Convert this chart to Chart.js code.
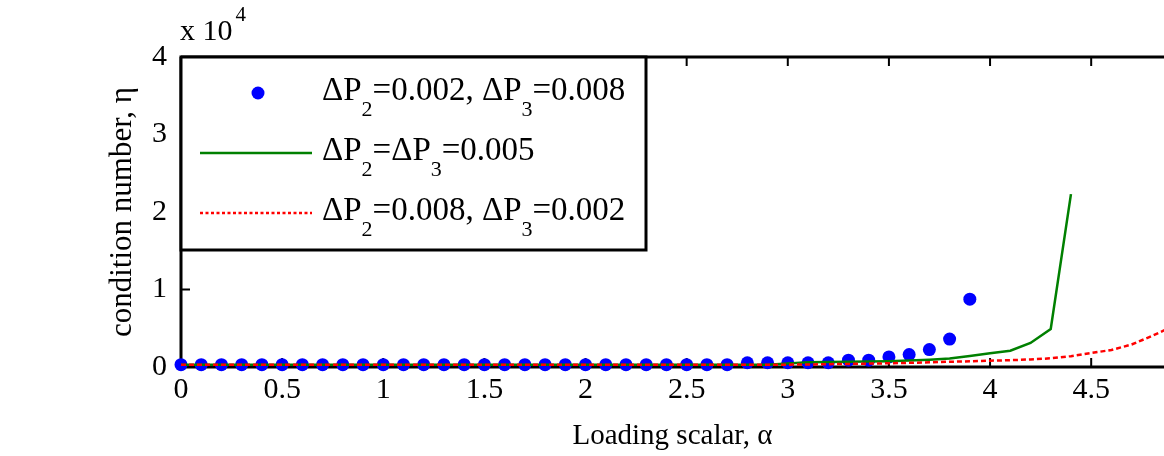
<!DOCTYPE html>
<html>
<head>
<meta charset="utf-8">
<script src="https://cdn.jsdelivr.net/npm/chart.js@4.4.0/dist/chart.umd.min.js"></script>
<style>
  html, body { margin: 0; padding: 0; background: #fff; overflow: hidden; }
  #wrap { position: relative; width: 1164px; height: 456px; }
  canvas { display: block; }
</style>
</head>
<body>
<div id="wrap"><canvas id="chart"></canvas></div>
<script>
// data (eta in absolute units, axis shows x 10^4)
const alphaDots = [0, 0.1, 0.2, 0.3, 0.4, 0.5, 0.6, 0.7, 0.8, 0.9,
  1.0, 1.1, 1.2, 1.3, 1.4, 1.5, 1.6, 1.7, 1.8, 1.9,
  2.0, 2.1, 2.2, 2.3, 2.4, 2.5, 2.6, 2.7, 2.8, 2.9,
  3.0, 3.1, 3.2, 3.3, 3.4, 3.5, 3.6, 3.7, 3.8, 3.9]
const etaDots = [300, 300, 300, 300, 300, 300, 300, 300, 300, 300,
  300, 300, 300, 300, 300, 300, 300, 300, 300, 300,
  300, 300, 300, 300, 300, 300, 300, 300, 550, 550,
  550, 550, 550, 880, 880, 1300, 1600, 2250, 3600, 8750]

const alphaGreen = [0, 0.1, 0.2, 0.3, 0.4, 0.5, 0.6, 0.7, 0.8, 0.9,
  1.0, 1.1, 1.2, 1.3, 1.4, 1.5, 1.6, 1.7, 1.8, 1.9,
  2.0, 2.1, 2.2, 2.3, 2.4, 2.5, 2.6, 2.7, 2.8, 2.9,
  3.0, 3.1, 3.2, 3.3, 3.4, 3.5, 3.6, 3.7, 3.8, 3.9,
  4.0, 4.1, 4.2, 4.3, 4.4]
const etaGreen = [300, 300, 300, 300, 300, 300, 300, 300, 300, 300,
  300, 300, 300, 300, 300, 300, 300, 300, 300, 300,
  300, 300, 300, 300, 300, 300, 300, 300, 300, 300,
  450, 600, 650, 680, 700, 750, 850, 950, 1100, 1430,
  1770, 2100, 3100, 4900, 22300]

const alphaRed = [0, 0.1, 0.2, 0.3, 0.4, 0.5, 0.6, 0.7, 0.8, 0.9,
  1.0, 1.1, 1.2, 1.3, 1.4, 1.5, 1.6, 1.7, 1.8, 1.9,
  2.0, 2.1, 2.2, 2.3, 2.4, 2.5, 2.6, 2.7, 2.8, 2.9,
  3.0, 3.1, 3.2, 3.3, 3.4, 3.5, 3.6, 3.7, 3.8, 3.9,
  4.0, 4.1, 4.2, 4.3, 4.4, 4.5, 4.6, 4.7, 4.8, 4.9]
const etaRed = [300, 300, 300, 300, 300, 300, 300, 300, 300, 300,
  300, 300, 300, 300, 300, 300, 300, 300, 300, 300,
  300, 300, 300, 300, 300, 300, 300, 300, 300, 300,
  300, 330, 360, 400, 440, 480, 540, 600, 680, 740,
  810, 880, 980, 1120, 1400, 1800, 2200, 2900, 4000, 5200]

const seriesLabels = ['ΔP2=0.002, ΔP3=0.008', 'ΔP2=ΔP3=0.005', 'ΔP2=0.008, ΔP3=0.002']
const xTitle = 'Loading scalar, α'
const yTitle = 'condition number, η'

const serif = "'Liberation Serif', 'Times New Roman', serif"

const toPoints = (xs, ys) => xs.map((x, i) => ({ x: x, y: ys[i] }))

// draw "ΔP2..." with the digit after P as a subscript
function drawTexLabel(ctx, text, x, y) {
  const parts = text.split(/P(\d)/)
  let cx = x
  ctx.textBaseline = 'alphabetic'
  ctx.textAlign = 'left'
  parts.forEach((p, i) => {
    if (i % 2 === 1) {
      ctx.font = '22px ' + serif
      ctx.fillText(p, cx, y + 16)
      cx += ctx.measureText(p).width
    } else {
      const s = i < parts.length - 1 ? p + 'P' : p
      ctx.font = '33px ' + serif
      ctx.fillText(s, cx, y)
      cx += ctx.measureText(s).width
    }
  })
}

const framePlugin = {
  id: 'frame',
  beforeDatasetsDraw(chart) {
    const { ctx, chartArea: a, scales } = chart
    ctx.save()
    ctx.strokeStyle = '#000'
    ctx.lineWidth = 3
    ctx.beginPath()
    ctx.moveTo(a.left, a.top); ctx.lineTo(a.right, a.top)
    ctx.moveTo(a.left, a.bottom); ctx.lineTo(a.right, a.bottom)
    ctx.moveTo(a.left, a.top); ctx.lineTo(a.left, a.bottom)
    ctx.stroke()
    ctx.lineWidth = 2
    ctx.beginPath()
    scales.x.ticks.forEach(t => {
      const px = scales.x.getPixelForValue(t.value)
      if (px <= a.left + 1) return
      ctx.moveTo(px, a.bottom); ctx.lineTo(px, a.bottom - 9)
      ctx.moveTo(px, a.top); ctx.lineTo(px, a.top + 9)
    })
    scales.y.ticks.forEach(t => {
      const py = scales.y.getPixelForValue(t.value)
      ctx.moveTo(a.left, py); ctx.lineTo(a.left + 9, py)
    })
    ctx.stroke()
    ctx.restore()
  },
  afterDatasetsDraw(chart) {
    const { ctx, chartArea: a } = chart
    const ds = chart.data.datasets
    ctx.save()
    // legend box
    const box = { l: a.left, t: a.top, r: 646, b: 250 }
    ctx.fillStyle = '#fff'
    ctx.fillRect(box.l, box.t, box.r - box.l, box.b - box.t)
    ctx.strokeStyle = '#000'
    ctx.lineWidth = 3
    ctx.strokeRect(box.l, box.t, box.r - box.l, box.b - box.t)

    const rows = [100, 160, 220]
    ds.forEach((d, i) => {
      const y = rows[i]
      const my = y - 7
      if (d.showLine === false) {
        ctx.fillStyle = d.pointBackgroundColor
        ctx.beginPath()
        ctx.arc(258, my, d.pointRadius, 0, Math.PI * 2)
        ctx.fill()
      } else {
        ctx.strokeStyle = d.borderColor
        ctx.lineWidth = d.borderWidth
        ctx.setLineDash(d.borderDash ? [3, 2.5] : [])
        ctx.beginPath()
        ctx.moveTo(200, my); ctx.lineTo(312, my)
        ctx.stroke()
        ctx.setLineDash([])
      }
      ctx.fillStyle = '#000'
      drawTexLabel(ctx, d.label, 322, y)
    })

    // exponent note above the y axis
    ctx.fillStyle = '#000'
    ctx.textAlign = 'left'
    ctx.textBaseline = 'alphabetic'
    ctx.font = '30px ' + serif
    ctx.fillText('x 10', 180, 40)
    const w = ctx.measureText('x 10').width
    ctx.font = '21px ' + serif
    ctx.fillText('4', 180 + w + 3, 21)
    ctx.restore()
  }
}

new Chart(document.getElementById('chart').getContext('2d'), {
  type: 'scatter',
  data: {
    datasets: [
      {
        label: seriesLabels[0],
        data: toPoints(alphaDots, etaDots),
        showLine: false,
        pointRadius: 6.5,
        pointBackgroundColor: '#0000ff',
        pointBorderWidth: 0,
        borderColor: '#0000ff',
        clip: false,
        order: 3,
      },
      {
        label: seriesLabels[1],
        data: toPoints(alphaGreen, etaGreen),
        showLine: true,
        pointRadius: 0,
        borderColor: '#008000',
        borderWidth: 2.5,
        order: 2,
      },
      {
        label: seriesLabels[2],
        data: toPoints(alphaRed, etaRed),
        showLine: true,
        pointRadius: 0,
        borderColor: '#ff0000',
        borderWidth: 2.5,
        borderDash: [5, 3],
        order: 1,
      },
    ],
  },
  options: {
    responsive: true,
    maintainAspectRatio: false,
    animation: false,
    layout: { autoPadding: false, padding: { top: 57, right: 0, left: 0, bottom: 0 } },
    plugins: {
      legend: { display: false },
      tooltip: { enabled: false },
    },
    scales: {
      x: {
        type: 'linear',
        min: 0,
        max: 4.86,
        grid: { display: false },
        border: { display: false },
        ticks: {
          stepSize: 0.5,
          includeBounds: false,
          maxRotation: 0,
          padding: -3,
          color: '#000',
          font: { family: serif, size: 30 },
          callback: v => String(Math.round(v * 10) / 10),
        },
        title: {
          display: true,
          text: xTitle,
          color: '#000',
          font: { family: serif, size: 29 },
          padding: { top: 0, bottom: 2 },
        },
        afterFit(scale) {
          scale.height = 89
          scale.paddingLeft = 0
          scale.paddingRight = 0
        },
      },
      y: {
        min: 0,
        max: 40000,
        grid: { display: false },
        border: { display: false },
        ticks: {
          stepSize: 10000,
          padding: 6,
          color: '#000',
          font: { family: serif, size: 30 },
          callback: v => String(v / 10000),
        },
        title: {
          display: true,
          text: yTitle,
          color: '#000',
          font: { family: serif, size: 31 },
          padding: { top: 104, bottom: 0 },
        },
        afterFit(scale) { scale.width = 181 },
      },
    },
  },
  plugins: [framePlugin],
})
</script>
</body>
</html>
